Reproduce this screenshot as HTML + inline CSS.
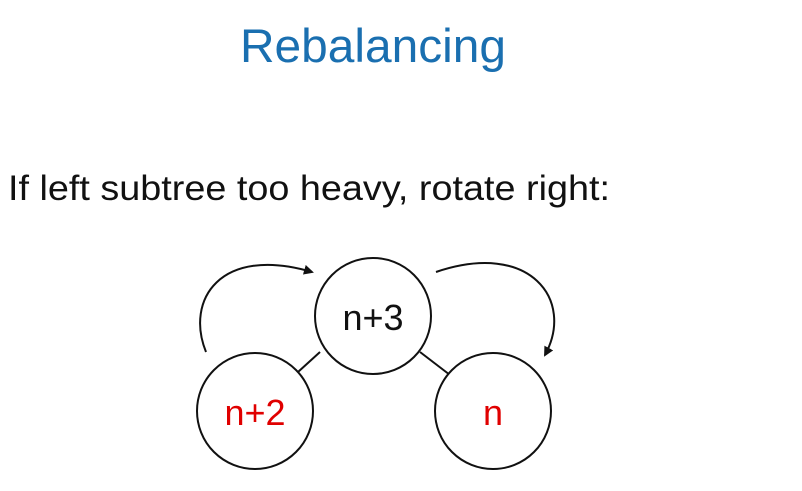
<!DOCTYPE html>
<html><head><meta charset="utf-8"><style>
html,body{margin:0;padding:0;background:#fff;}
svg{display:block;}
</style></head><body>
<svg width="802" height="491" viewBox="0 0 802 491" xmlns="http://www.w3.org/2000/svg">
<defs>
<marker id="ah" markerWidth="10" markerHeight="10" refX="8" refY="5" orient="auto" markerUnits="userSpaceOnUse">
<path d="M0,0 L10,5 L0,10 Z" fill="#111"/>
</marker>
</defs>
<text x="240" y="62" textLength="266" lengthAdjust="spacingAndGlyphs" font-family="Liberation Sans, sans-serif" font-size="47" fill="#1a6fb0">Rebalancing</text>
<text x="8" y="200" textLength="602" lengthAdjust="spacingAndGlyphs" font-family="Liberation Sans, sans-serif" font-size="35" fill="#111">If left subtree too heavy, rotate right:</text>
<line x1="320" y1="352" x2="298" y2="372" stroke="#111" stroke-width="2"/>
<line x1="420" y1="352" x2="450" y2="375" stroke="#111" stroke-width="2"/>
<g>
<circle cx="373" cy="316" r="58" fill="#fff" stroke="#111" stroke-width="2"/>
<text x="373" y="330" text-anchor="middle" font-family="Liberation Sans, sans-serif" font-size="36" fill="#111">n+3</text>
</g>
<g>
<circle cx="255" cy="411" r="58" fill="#fff" stroke="#111" stroke-width="2"/>
<text x="255" y="425" text-anchor="middle" font-family="Liberation Sans, sans-serif" font-size="36" fill="#e00000">n+2</text>
</g>
<g>
<circle cx="493" cy="411" r="58" fill="#fff" stroke="#111" stroke-width="2"/>
<text x="493" y="425" text-anchor="middle" font-family="Liberation Sans, sans-serif" font-size="36" fill="#e00000">n</text>
</g>
<path d="M206,352 C185,300 220,245 312,272" fill="none" stroke="#111" stroke-width="2" marker-end="url(#ah)"/>
<path d="M436,272 C530,240 575,300 545,355" fill="none" stroke="#111" stroke-width="2" marker-end="url(#ah)"/>
</svg>
</body></html>
